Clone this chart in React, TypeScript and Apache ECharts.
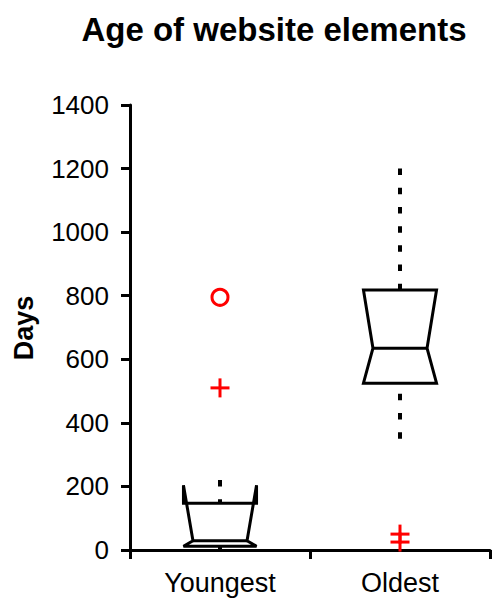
import React, { useEffect, useRef } from "react";
import * as echarts from "echarts";

const categories = ["Youngest", "Oldest"];
const q1 = [12, 525];
const median = [29, 635];
const q3 = [147, 818];
const notchLow = [12, 525];
const notchHigh = [204, 818];
const whiskerLow = [0, 350];
const whiskerHigh = [220, 1200];

const outlierCategory = [0, 0, 1, 1];
const outlierValue = [795, 510, 50, 25];
const outlierMarker = ["circle", "plus", "plus", "plus"];

const yTicks = [0, 200, 400, 600, 800, 1000, 1200, 1400];

const FONT = 'Arial, "Liberation Sans", Helvetica, sans-serif';

export default function App() {
  const ref = useRef<HTMLDivElement>(null);

  useEffect(() => {
    if (!ref.current) return;
    const chart = echarts.init(ref.current, undefined, { renderer: "svg" });

    const boxData = categories.map((_, i) => [
      i,
      q1[i],
      median[i],
      q3[i],
      notchLow[i],
      notchHigh[i],
      whiskerLow[i],
      whiskerHigh[i],
    ]);
    const outlierData = outlierValue.map((v, k) => [
      outlierCategory[k],
      v,
      outlierMarker[k] === "circle" ? 1 : 0,
    ]);

    const option: any = {
      animation: false,
      backgroundColor: "#ffffff",
      title: {
        text: "Age of website elements",
        left: 274,
        top: 13,
        textAlign: "center",
        padding: 0,
        textStyle: {
          fontFamily: FONT,
          fontWeight: "bold",
          fontSize: 33,
          color: "#000",
        },
      },
      graphic: [
        {
          type: "text",
          x: 24,
          y: 328,
          rotation: Math.PI / 2,
          style: {
            text: "Days",
            fontFamily: FONT,
            fontWeight: "bold",
            fontSize: 27,
            fill: "#000",
            align: "center",
            verticalAlign: "middle",
          },
        },
      ],
      grid: { left: 130, right: 2, top: 105, bottom: 53, containLabel: false },
      xAxis: {
        type: "category",
        data: categories,
        boundaryGap: true,
        axisLine: { show: true, lineStyle: { color: "#000", width: 3 } },
        axisTick: {
          show: true,
          length: 9,
          alignWithLabel: false,
          lineStyle: { color: "#000", width: 3 },
        },
        axisLabel: {
          color: "#000",
          fontFamily: FONT,
          fontSize: 27,
          margin: 19,
        },
        splitLine: { show: false },
      },
      yAxis: {
        type: "value",
        min: 0,
        max: 1400,
        interval: 200,
        axisLine: { show: true, lineStyle: { color: "#000", width: 3 } },
        axisTick: { show: true, length: 9, lineStyle: { color: "#000", width: 3 } },
        axisLabel: {
          color: "#000",
          fontFamily: FONT,
          fontSize: 26,
          margin: 21,
          formatter: (v: number) => (yTicks.includes(v) ? String(v) : ""),
        },
        splitLine: { show: false },
      },
      series: [
        {
          type: "custom",
          name: "box",
          data: boxData,
          encode: { x: 0, y: [1, 2, 3, 4, 5, 6, 7] },
          renderItem: (params: any, api: any) => {
            const i = api.value(0);
            const cx = api.coord([i, 0])[0];
            const band = api.size([1, 0])[0];
            const hw = band * 0.203;
            const ind = hw * 0.26;
            const y = (v: number) => api.coord([i, v])[1];
            const vq1 = api.value(1);
            const vmed = api.value(2);
            const vq3 = api.value(3);
            const vnl = api.value(4);
            const vnh = api.value(5);
            const vwl = api.value(6);
            const vwh = api.value(7);
            const dashStyle = {
              stroke: "#000",
              lineWidth: 4,
              lineDash: [6.5, 12.7],
              lineCap: "butt",
            };
            const L = cx - hw;
            const R = cx + hw;
            const pts: number[][] = [];
            const push = (x: number, yy: number) => {
              const last = pts[pts.length - 1];
              if (last && Math.abs(last[0] - x) < 0.01 && Math.abs(last[1] - yy) < 0.01) return;
              pts.push([x, yy]);
            };
            push(L, y(vq1));
            push(L, y(vnl));
            push(L + ind, y(vmed));
            push(L, y(vnh));
            push(L, y(vq3));
            push(R, y(vq3));
            push(R, y(vnh));
            push(R - ind, y(vmed));
            push(R, y(vnl));
            push(R, y(vq1));
            return {
              type: "group",
              children: [
                {
                  type: "line",
                  shape: { x1: cx, y1: y(vwh), x2: cx, y2: y(vq3) },
                  style: dashStyle,
                },
                {
                  type: "line",
                  shape: { x1: cx, y1: y(vwl), x2: cx, y2: y(vq1) },
                  style: dashStyle,
                },
                {
                  type: "polygon",
                  shape: { points: pts },
                  style: {
                    fill: "none",
                    stroke: "#000",
                    lineWidth: 3,
                    lineJoin: "miter",
                    miterLimit: 2,
                  },
                },
                {
                  type: "line",
                  shape: {
                    x1: L + ind,
                    y1: y(vmed),
                    x2: R - ind,
                    y2: y(vmed),
                  },
                  style: { stroke: "#000", lineWidth: 3 },
                },
              ],
            };
          },
        },
        {
          type: "custom",
          name: "outliers",
          data: outlierData,
          encode: { x: 0, y: 1 },
          renderItem: (params: any, api: any) => {
            const p = api.coord([api.value(0), api.value(1)]);
            const kind = api.value(2);
            if (kind === 1) {
              return {
                type: "circle",
                shape: { cx: p[0], cy: p[1], r: 8 },
                style: { fill: "none", stroke: "#ff0000", lineWidth: 3 },
              };
            }
            const h = 9.5;
            return {
              type: "group",
              children: [
                {
                  type: "line",
                  shape: { x1: p[0] - h, y1: p[1], x2: p[0] + h, y2: p[1] },
                  style: { stroke: "#ff0000", lineWidth: 3 },
                },
                {
                  type: "line",
                  shape: { x1: p[0], y1: p[1] - h, x2: p[0], y2: p[1] + h },
                  style: { stroke: "#ff0000", lineWidth: 3 },
                },
              ],
            };
          },
        },
      ],
    };

    chart.setOption(option);
    return () => chart.dispose();
  }, []);

  return (
    <div
      ref={ref}
      style={{ position: "absolute", left: 0, top: 0, width: 492, height: 603 }}
    />
  );
}
